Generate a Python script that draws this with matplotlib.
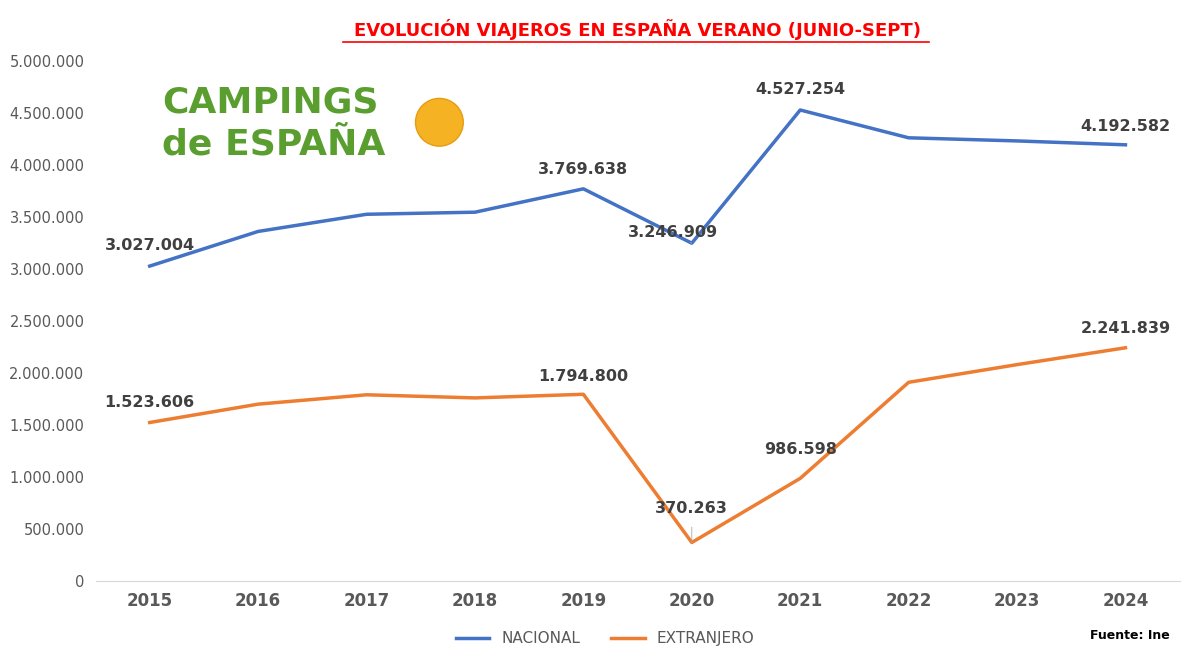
import matplotlib; matplotlib.use("Agg")
import matplotlib.pyplot as plt
from matplotlib.patches import Ellipse
import numpy as np

YEARS=["2015","2016","2017","2018","2019","2020","2021","2022","2023","2024"]
NACIONAL=[3027004,3360000,3525000,3545000,3769638,3246909,4527254,4260000,4230000,4192582]
EXTRANJERO=[1523606,1700000,1790000,1760000,1794800,370263,986598,1910000,2080000,2241839]
NAC_LABELS={0:"3.027.004",4:"3.769.638",5:"3.246.909",6:"4.527.254",9:"4.192.582"}
EXT_LABELS={0:"1.523.606",4:"1.794.800",5:"370.263",6:"986.598",9:"2.241.839"}
BLUE="#4472c4"; ORANGE="#ed7d31"; INK="#404040"

fig=plt.figure(figsize=(11.94,6.61),dpi=100)
ax=fig.add_axes([0.08,0.121,0.908,0.787])
x=np.arange(len(YEARS))
ax.plot(x,NACIONAL,color=BLUE,lw=2.5,label="NACIONAL")
ax.plot(x,EXTRANJERO,color=ORANGE,lw=2.5,label="EXTRANJERO")
ax.set_xlim(-0.5,9.5); ax.set_ylim(0,5000000)
ax.set_yticks(np.arange(0,5000001,500000))
ax.set_yticklabels(["0"]+[f"{v:,}".replace(",",".") for v in range(500000,5000001,500000)],
                   fontsize=10.5,color="#595959")
ax.set_xticks(x); ax.set_xticklabels(YEARS,fontsize=12,fontweight="bold",color="#595959")
ax.tick_params(length=0,pad=8)
for s in ("top","right","left"): ax.spines[s].set_visible(False)
ax.spines["bottom"].set_color("#d9d9d9")

def lab(series,labels,offs):
    # offsets in pixels (dx, dy above point to label centre)
    for i,t in labels.items():
        dx,dy=offs[i]
        ax.annotate(t,(x[i],series[i]),xytext=(dx*0.72,dy*0.72),textcoords="offset points",
                    ha="center",va="center",fontsize=11.5,fontweight="bold",color=INK,
                    arrowprops=dict(arrowstyle="-",color="#a6a6a6",lw=0.6,shrinkA=6,shrinkB=0) if i==5 else None)
lab(NACIONAL,NAC_LABELS,{0:(0,21),4:(0,19),5:(-19,11),6:(0,20),9:(0,18)})
lab(EXTRANJERO,EXT_LABELS,{0:(0,20),4:(0,18),5:(0,34),6:(0,29),9:(0,19)})

fig.text(0.534,0.955,"EVOLUCIÓN VIAJEROS EN ESPAÑA VERANO (JUNIO-SEPT)",ha="center",va="center",
         fontsize=13,fontweight="bold",color="#ff0000")
fig.add_artist(plt.Line2D([0.287,0.778],[0.936,0.936],color="#ff0000",lw=1.2))
# logo
fig.text(0.136,0.845,"CAMPINGS",fontsize=26,fontweight="bold",color="#5a9e2f",va="center")
fig.text(0.136,0.782,"de ESPAÑA",fontsize=26,fontweight="bold",color="#5a9e2f",va="center")
fig.add_artist(Ellipse((0.368,0.815),0.04,0.04*1194/661,transform=fig.transFigure,
               facecolor="#f5b324",edgecolor="#e89b10"))

leg=ax.legend(loc="upper center",bbox_to_anchor=(0.47,-0.07),ncol=2,frameon=False,
              fontsize=11,handlelength=2.2)
for t in leg.get_texts(): t.set_color("#595959")
fig.text(0.98,0.033,"Fuente: Ine",ha="right",fontsize=9,fontweight="bold",color="black")
fig.savefig("out.png",dpi=100,facecolor="white")
